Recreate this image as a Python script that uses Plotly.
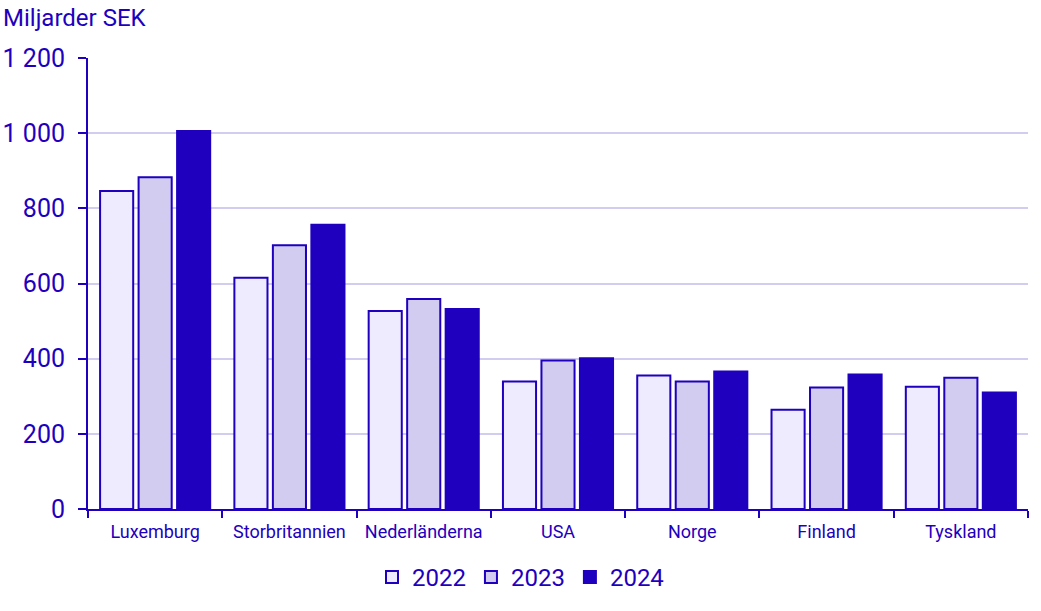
import plotly.graph_objects as go

countries = ["Luxemburg", "Storbritannien", "Nederländerna", "USA", "Norge", "Finland", "Tyskland"]
years = ["2022", "2023", "2024"]
values_2022 = [846, 615, 527, 339, 355, 264, 325]
values_2023 = [883, 702, 559, 395, 339, 323, 349]
values_2024 = [1006, 756, 532, 401, 366, 358, 310]

dark = "#1E00BE"
fills = ["#EEEBFF", "#D2CCF0", dark]

fig = go.Figure()
for year, vals, fill in zip(years, [values_2022, values_2023, values_2024], fills):
    fig.add_trace(
        go.Bar(
            x=countries,
            y=vals,
            name=year,
            marker=dict(color=fill, line=dict(color=dark, width=2)),
        )
    )

fig.update_layout(
    width=1041,
    height=611,
    margin=dict(l=88, r=13, t=58, b=102, autoexpand=False),
    plot_bgcolor="white",
    paper_bgcolor="white",
    font=dict(family="Roboto", color=dark),
    separators=", ",
    barmode="group",
    bargap=0.14,
    bargroupgap=0.14,
    showlegend=True,
    legend=dict(
        orientation="h",
        xref="container",
        x=0.5,
        xanchor="center",
        yref="container",
        y=0.055,
        yanchor="middle",
        font=dict(size=24, color=dark),
        itemwidth=30,
        traceorder="normal",
    ),
    annotations=[
        dict(
            text="Miljarder SEK",
            xref="paper",
            yref="paper",
            x=0,
            y=1,
            xshift=-87,
            yshift=24,
            xanchor="left",
            yanchor="bottom",
            showarrow=False,
            font=dict(size=24, color=dark),
        )
    ],
)

fig.update_xaxes(
    automargin=False,
    showline=True,
    linecolor=dark,
    linewidth=2,
    ticks="outside",
    tickson="boundaries",
    ticklen=7,
    tickwidth=2,
    tickcolor=dark,
    tickangle=0,
    tickfont=dict(size=18, color=dark),
    ticklabelstandoff=5,
)
fig.update_yaxes(
    automargin=False,
    range=[0, 1200],
    dtick=200,
    tickformat=",d",
    showline=True,
    linecolor=dark,
    linewidth=2,
    ticks="outside",
    ticklen=8,
    tickwidth=2,
    tickcolor=dark,
    gridcolor="#D2CCF0",
    gridwidth=1.5,
    zeroline=False,
    tickfont=dict(size=25, color=dark),
    ticklabelstandoff=8,
)

fig.write_html(
    "out.html",
    config={"displayModeBar": False},
    post_script="document.body.style.margin = '0';",
)
